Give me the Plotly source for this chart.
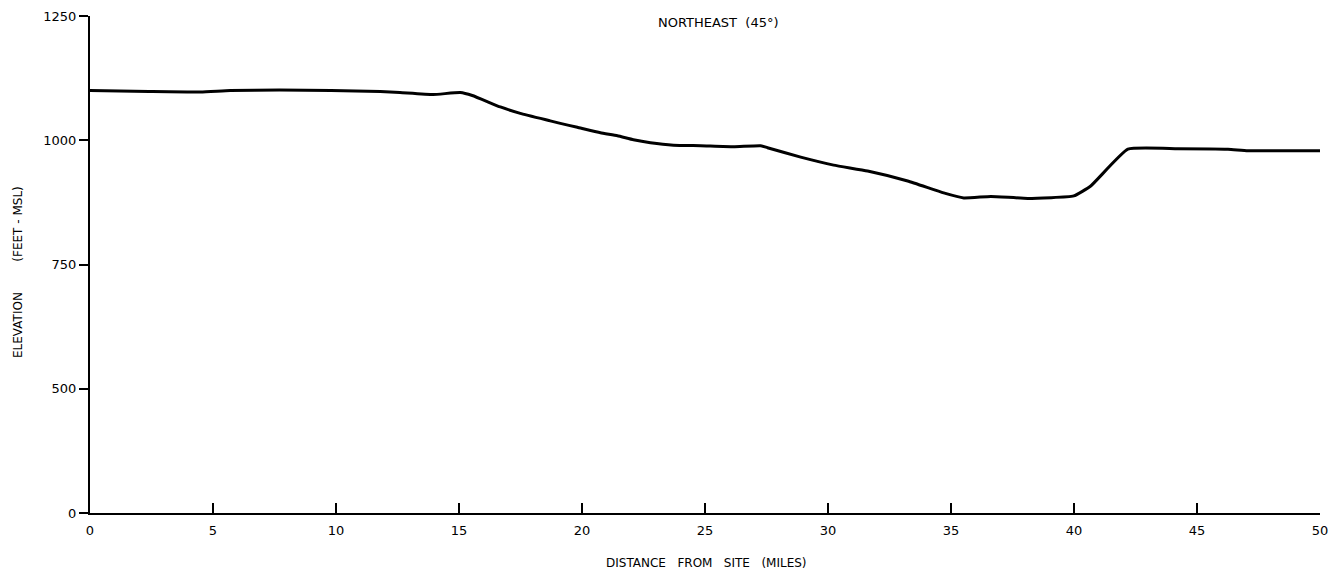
import plotly.graph_objects as go

# Distance from site (miles) and elevation (feet MSL), read from the profile
distance_mi = [0, 2.4, 4.5, 5.7, 7.7, 9.8, 11.8, 12.6, 13.95, 15.05, 15.54, 16.68, 17.49,
               18.71, 19.12, 19.81, 20.75, 21.44, 22.09, 22.78, 23.72, 24.82, 26.16,
               27.26, 27.54, 28.89, 30.23, 31.61, 33.24, 34.70, 35.52, 36.62, 38.12,
               39.99, 40.68, 42.19, 44.22, 46.26, 47.07, 50.0]
elevation_ft = [1100, 1098, 1097, 1100, 1101, 1100, 1098, 1096, 1092, 1096, 1090, 1067, 1054,
                1039, 1034, 1026, 1015, 1009, 1001, 995, 990, 989, 987,
                989, 985, 966, 950, 938, 918, 894, 884, 887, 883,
                888, 908, 982, 983, 982, 979, 979]

# Axis ticks (the bottom interval of the vertical axis is broken: lowest tick reads 0)
x_ticks = [0, 5, 10, 15, 20, 25, 30, 35, 40, 45, 50]
x_tick_labels = ["0", "5", "10", "15", "20", "25", "30", "35", "40", "45", "50"]
y_ticks = [250, 500, 750, 1000, 1250]
y_tick_labels = ["0", "500", "750", "1000", "1250"]

title_text = "NORTHEAST  (45°)"
x_title = "DISTANCE   FROM   SITE   (MILES)"
y_title = "ELEVATION        (FEET - MSL)"

W, H = 1331, 575
L, R, T, B = 90, 11, 16, 62
pw, ph = W - L - R, H - T - B

def px(xp):
    return (xp - L) / pw

def py(yp):
    return (H - B - yp) / ph

font_family = "DejaVu Sans, Liberation Sans, Arial, sans-serif"

fig = go.Figure()
fig.add_trace(go.Scatter(
    x=distance_mi, y=elevation_ft, mode="lines",
    line=dict(color="black", width=3, shape="spline", smoothing=0.4),
    showlegend=False, hoverinfo="skip"))

fig.update_layout(
    width=W, height=H,
    margin=dict(l=L, r=R, t=T, b=B, autoexpand=False),
    paper_bgcolor="white", plot_bgcolor="white",
    font=dict(family=font_family, color="black", size=13),
)

fig.add_annotation(text=title_text, xref="paper", yref="paper",
                   x=px(718), y=py(23), showarrow=False,
                   font=dict(size=13, family=font_family),
                   xanchor="center", yanchor="middle")
fig.add_annotation(text=x_title, xref="paper", yref="paper",
                   x=px(706), y=py(563), showarrow=False,
                   font=dict(size=12, family=font_family),
                   xanchor="center", yanchor="middle")
fig.add_annotation(text=y_title, xref="paper", yref="paper",
                   x=px(18), y=py(272), showarrow=False, textangle=-90,
                   font=dict(size=12, family=font_family),
                   xanchor="center", yanchor="middle")

fig.update_xaxes(
    range=[0, 50], tickvals=x_ticks, ticktext=x_tick_labels,
    showline=True, linecolor="black", linewidth=2,
    ticks="inside", ticklen=10, tickwidth=1.5, tickcolor="black",
    showgrid=False, zeroline=False, automargin=False,
    tickfont=dict(size=13), ticklabelstandoff=4,
)
fig.update_yaxes(
    range=[250, 1250], tickvals=y_ticks, ticktext=y_tick_labels,
    showline=True, linecolor="black", linewidth=2,
    ticks="outside", ticklen=9, tickwidth=1.5, tickcolor="black",
    showgrid=False, zeroline=False, automargin=False,
    tickfont=dict(size=13),
)

fig.write_html("out.html", config={"displayModeBar": False},
               post_script="document.body.style.margin='0px';document.body.style.overflow='hidden';")
